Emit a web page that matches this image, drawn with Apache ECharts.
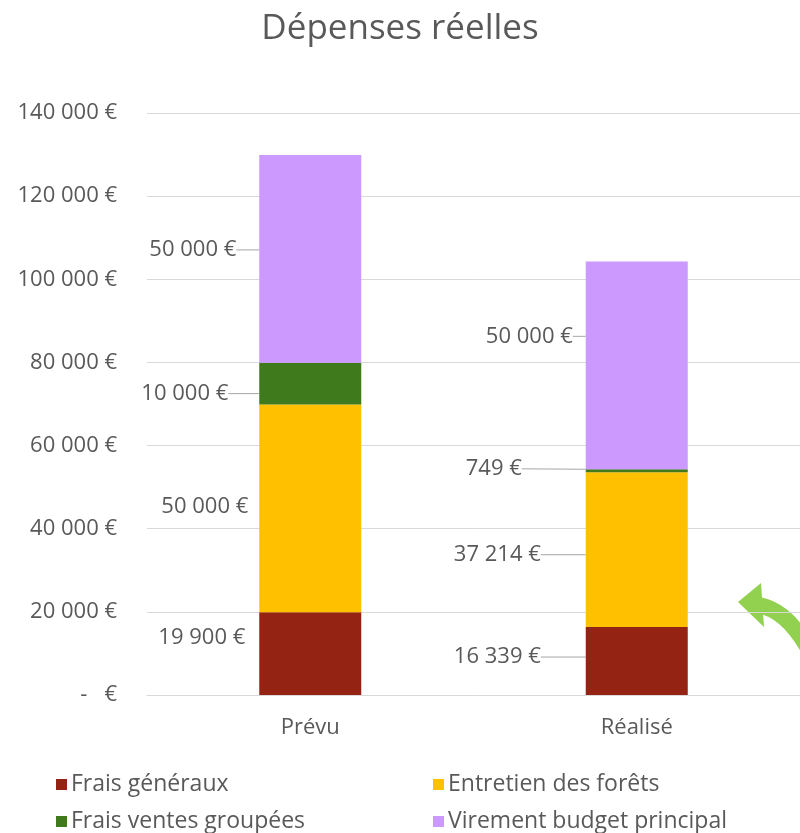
<!DOCTYPE html>
<html>
<head>
<meta charset="utf-8">
<script src="https://cdn.jsdelivr.net/npm/echarts@6/dist/echarts.min.js"></script>
<style>
  html, body { margin: 0; padding: 0; background: #fff; }
  #chart { width: 800px; height: 833px; }
</style>
</head>
<body>
<div id="chart"></div>
<script>
// data
const categories = ['Prévu', 'Réalisé']
const seriesNames = ['Frais généraux', 'Entretien des forêts', 'Frais ventes groupées', 'Virement budget principal']
const fraisGeneraux = [19900, 16339]
const entretienForets = [50000, 37214]
const fraisVentes = [10000, 749]
const virementBudget = [50000, 50000]
const yTicks = [0, 20000, 40000, 60000, 80000, 100000, 120000, 140000]

// label offsets (dx, dy, leader line) per series, per category
const labelMoves = [
  [[-9, -16, false], [-40, -4, true]],
  [[-6, -2, false], [-40, 5, true]],
  [[-26, 10, true], [-59, -2, true]],
  [[-18, -9, true], [-8, -29, true]],
]
// legend slots: [left, top]
const legendSlots = [[51, 768], [428, 768], [51, 805], [428, 805]]
const colors = ['#942314', '#FFC000', '#3F7A1C', '#CC99FF']
const textColor = '#595959'
const font = 'Open Sans'

function fmtEuro(v) {
  if (v === 0) return '-   €'
  return String(v).replace(/\B(?=(\d{3})+(?!\d))/g, ' ') + ' €'
}

const chart = echarts.init(document.getElementById('chart'))
const values = [fraisGeneraux, entretienForets, fraisVentes, virementBudget]

chart.setOption({
  animation: false,
  title: {
    text: 'Dépenses réelles',
    left: 'center',
    top: 7,
    textStyle: { fontFamily: font, fontSize: 35, fontWeight: 'normal', color: textColor },
  },
  legend: seriesNames.map((name, i) => ({
    data: [name],
    left: legendSlots[i][0],
    top: legendSlots[i][1],
    itemWidth: 11,
    itemHeight: 11,
    icon: 'rect',
    textStyle: { fontFamily: font, fontSize: 23, color: textColor, padding: [0, 0, 0, -1] },
  })),
  grid: { left: 147, right: 0, top: 113, bottom: 138 },
  xAxis: {
    type: 'category',
    data: categories,
    axisTick: { show: false },
    axisLine: { lineStyle: { color: '#D9D9D9' } },
    axisLabel: { fontFamily: font, fontSize: 22, color: textColor, margin: 22 },
  },
  yAxis: {
    type: 'value',
    min: yTicks[0],
    max: yTicks[yTicks.length - 1],
    interval: 20000,
    axisLine: { show: false },
    axisTick: { show: false },
    splitLine: { lineStyle: { color: '#D9D9D9' } },
    axisLabel: { fontFamily: font, fontSize: 22, color: textColor, margin: 30, formatter: fmtEuro },
  },
  series: seriesNames.map((name, s) => ({
    name: name,
    type: 'bar',
    stack: 'total',
    barWidth: 102,
    itemStyle: { color: colors[s] },
    data: values[s].map((v, i) => ({
      value: v,
      labelLine: { show: labelMoves[s][i][2] },
    })),
    label: {
      show: true,
      position: 'left',
      distance: 5,
      fontFamily: font,
      fontSize: 22,
      color: textColor,
      formatter: p => fmtEuro(p.value),
    },
    labelLine: { lineStyle: { color: '#A6A6A6', width: 1 } },
    labelLayout: p => ({ dx: labelMoves[s][p.dataIndex][0], dy: labelMoves[s][p.dataIndex][1] }),
  })),
  // green arrow drawn over the chart
  graphic: [
    {
      type: 'bezierCurve',
      shape: { x1: 758, y1: 605, cpx1: 776, cpy1: 608, cpx2: 792, cpy2: 620, x2: 808, y2: 648 },
      style: { stroke: '#92D050', lineWidth: 16, fill: null },
    },
    {
      type: 'polygon',
      shape: { points: [[738, 602], [761, 583], [764, 627]] },
      style: { fill: '#92D050' },
    },
  ],
})
</script>
</body>
</html>
